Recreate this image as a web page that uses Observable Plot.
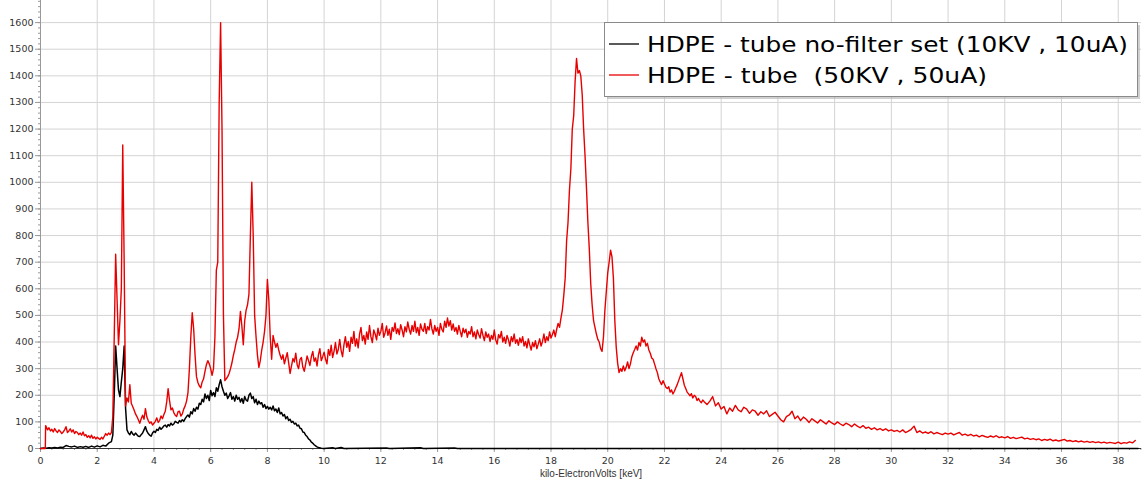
<!DOCTYPE html>
<html>
<head>
<meta charset="utf-8">
<script src="https://cdn.jsdelivr.net/npm/d3@7"></script>
<script src="https://cdn.jsdelivr.net/npm/@observablehq/plot@0.6"></script>
<style>
  html, body { margin: 0; padding: 0; background: #fff; }
  #chart { position: relative; width: 1146px; height: 488px; }
</style>
</head>
<body>
<div id="chart"></div>
<script>
// ---------- DATA (energy keV, counts) ----------
const seriesNames = ["HDPE - tube no-filter set (10KV , 10uA)", "HDPE - tube  (50KV , 50uA)"];
const xTicks = [0,2,4,6,8,10,12,14,16,18,20,22,24,26,28,30,32,34,36,38];
const yTicks = [0,100,200,300,400,500,600,700,800,900,1000,1100,1200,1300,1400,1500,1600];

// black: 10KV / 10uA
const blackLow = [[0,0],[0.1,2],[0.2,1],[0.3,3],[0.4,2],[0.5,4],[0.6,2],[0.7,5],[0.8,4],[0.9,11],[1.0,8],[1.1,6],[1.2,9],[1.3,4],[1.4,7],[1.5,5],[1.6,8],[1.7,4],[1.8,9],[1.9,5],[2.0,10],[2.1,6],[2.2,12],[2.3,9],[2.4,20],[2.5,26]];
const blackPeaks = [[2.55,50],[2.6,200],[2.65,385],[2.7,300],[2.75,220],[2.8,195],[2.85,250],[2.9,300],[2.95,385],[3.0,150],[3.05,70],[3.1,58],[3.15,52],[3.2,64],[3.25,55],[3.3,50],[3.35,58],[3.4,52],[3.45,46],[3.5,45],[3.55,52],[3.6,58],[3.65,70],[3.7,82],[3.75,65],[3.8,56],[3.85,50],[3.9,46],[3.95,58],[4.0,65],[4.05,60],[4.1,72],[4.15,68],[4.2,80],[4.25,72],[4.3,78],[4.35,85],[4.4,88],[4.45,80],[4.5,90],[4.55,85],[4.6,95],[4.65,88],[4.7,92],[4.75,102],[4.8,98],[4.85,95],[4.9,105],[4.95,100],[5.0,108],[5.05,102]];
const blackHump = [[5.1,112],[5.15,120],[5.2,126],[5.25,118],[5.3,138],[5.35,130],[5.4,150],[5.45,140],[5.5,155],[5.55,148],[5.6,170],[5.65,165],[5.7,185],[5.75,175],[5.8,205],[5.85,188],[5.9,200],[5.95,180],[6.0,218],[6.05,198],[6.1,210],[6.15,195],[6.2,228],[6.25,215],[6.3,240],[6.35,258],[6.4,232],[6.45,215],[6.5,200],[6.55,208],[6.6,188],[6.65,198],[6.7,210],[6.75,185],[6.8,195],[6.85,178],[6.9,200],[6.95,185],[7.0,192],[7.05,175],[7.1,188],[7.15,170],[7.2,195],[7.25,182],[7.3,178],[7.35,200],[7.4,208],[7.45,188],[7.5,195],[7.55,172],[7.6,185],[7.65,165],[7.7,178],[7.75,168],[7.8,172],[7.85,155],[7.9,165],[7.95,150],[8.0,158],[8.05,148],[8.1,155],[8.15,145],[8.2,160],[8.25,142],[8.3,148],[8.35,135],[8.4,152],[8.45,130],[8.5,135],[8.55,122],[8.6,128],[8.65,112],[8.7,120],[8.75,105],[8.8,110],[8.85,98],[8.9,102],[8.95,92],[9.0,95],[9.05,85],[9.1,88],[9.15,76],[9.2,74],[9.25,62],[9.3,60],[9.35,50],[9.4,45],[9.45,36],[9.5,32],[9.55,24],[9.6,20],[9.65,14],[9.7,10],[9.75,6],[9.8,4],[9.9,1],[10.0,0]];
const blackTail = [[10.3,3],[10.4,0],[10.6,4],[10.7,0],[12.2,2],[12.3,0],[13.4,3],[13.5,0],[14.6,2],[14.7,0],[38.7,0]];

// red: 50KV / 50uA
const redLow = [[0,0],[0.17,0],[0.18,86],[0.25,70],[0.3,78],[0.35,66],[0.4,72],[0.45,62],[0.5,75],[0.55,66],[0.6,60],[0.65,70],[0.7,64],[0.75,56],[0.8,62],[0.85,70],[0.9,82],[0.95,60],[1.0,66],[1.05,74],[1.1,62],[1.15,70],[1.2,56],[1.25,64],[1.3,60],[1.35,52],[1.4,58],[1.45,50],[1.5,62],[1.55,48],[1.6,52],[1.65,42],[1.7,48],[1.75,40],[1.8,50],[1.85,38],[1.9,44],[1.95,36],[2.0,42],[2.05,38],[2.1,34],[2.15,42],[2.2,36],[2.25,46],[2.3,56],[2.35,50],[2.4,58],[2.45,52],[2.5,60]];
const redPeaksLow = [[2.55,120],[2.6,420],[2.65,730],[2.7,560],[2.75,390],[2.8,480],[2.85,600],[2.9,1140],[2.95,700],[3.0,160],[3.05,190],[3.1,175],[3.15,240],[3.2,170],[3.25,158],[3.3,145],[3.35,130],[3.4,120],[3.45,108],[3.5,95],[3.55,112],[3.6,125],[3.65,110],[3.7,150],[3.75,118],[3.8,105],[3.85,95],[3.9,100],[3.95,88],[4.0,95],[4.05,102],[4.1,115],[4.15,98],[4.2,105],[4.25,122],[4.3,112],[4.35,128],[4.4,140],[4.45,175],[4.5,225],[4.55,180],[4.6,145],[4.65,152],[4.7,135],[4.75,125],[4.8,120],[4.85,138],[4.9,140],[4.95,122],[5.0,130],[5.05,148],[5.1,160],[5.15,178],[5.2,210],[5.25,300],[5.3,420],[5.35,510],[5.4,450],[5.45,350],[5.5,270],[5.55,248],[5.6,235],[5.65,228],[5.7,250],[5.75,262],[5.8,290],[5.85,315],[5.9,330],[5.95,318],[6.0,300],[6.05,275],[6.1,300],[6.15,420],[6.2,670],[6.25,700],[6.3,1300],[6.35,1600],[6.4,1200],[6.45,500],[6.5,255],[6.55,262],[6.6,270],[6.65,282],[6.7,300],[6.75,322],[6.8,350],[6.85,372],[6.9,400],[6.95,418],[7.0,450],[7.05,515],[7.1,460],[7.15,390],[7.2,480],[7.25,520],[7.3,540],[7.35,580],[7.4,800],[7.45,1000],[7.5,800],[7.55,500],[7.6,420],[7.65,350],[7.7,305],[7.75,330],[7.8,370],[7.85,400],[7.9,440],[7.95,500],[8.0,635],[8.05,560],[8.1,420],[8.15,335],[8.2,425],[8.25,400],[8.3,380],[8.35,395],[8.4,370],[8.45,350]];
const redPlateau = [[8.5,335],[8.55,352],[8.6,318],[8.65,340],[8.7,360],[8.75,322],[8.8,282],[8.85,310],[8.9,338],[8.95,325],[9.0,358],[9.05,315],[9.1,300],[9.15,335],[9.2,342],[9.25,305],[9.3,290],[9.35,318],[9.4,348],[9.45,330],[9.5,312],[9.55,345],[9.6,365],[9.65,328],[9.7,340],[9.75,310],[9.8,352],[9.85,375],[9.9,330],[9.95,345],[10.0,362],[10.05,335],[10.1,318],[10.15,372],[10.2,350],[10.25,388],[10.3,342],[10.35,365],[10.4,398],[10.45,355],[10.5,372],[10.55,410],[10.6,368],[10.65,345],[10.7,390],[10.75,420],[10.8,380],[10.85,402],[10.9,365],[10.95,418],[11.0,395],[11.05,440],[11.1,385],[11.15,412],[11.2,378],[11.25,430],[11.3,455],[11.35,405],[11.4,425],[11.45,392],[11.5,438],[11.55,410],[11.6,462],[11.65,420],[11.7,398],[11.75,445],[11.8,430],[11.85,408],[11.9,452],[11.95,425],[12.0,440],[12.05,470],[12.1,418],[12.15,435],[12.2,460],[12.25,425],[12.3,448],[12.35,410],[12.4,455],[12.45,440],[12.5,472],[12.55,432],[12.6,450],[12.65,428],[12.7,465],[12.75,445],[12.8,420],[12.85,458],[12.9,438],[12.95,475],[13.0,448],[13.05,430],[13.1,462],[13.15,440],[13.2,478],[13.25,435],[13.3,455],[13.35,425],[13.4,468],[13.45,448],[13.5,440],[13.55,470],[13.6,432],[13.65,458],[13.7,445],[13.75,485],[13.8,450],[13.85,430],[13.9,462],[13.95,440],[14.0,455],[14.05,425],[14.1,470],[14.15,448],[14.2,438],[14.25,478],[14.3,455],[14.35,490],[14.4,460],[14.45,480],[14.5,445],[14.55,468],[14.6,440],[14.65,455],[14.7,430],[14.75,462],[14.8,440],[14.85,420],[14.9,452],[14.95,435],[15.0,448],[15.05,418],[15.1,440],[15.15,430],[15.2,458],[15.25,420],[15.3,438],[15.35,412],[15.4,445],[15.45,428],[15.5,415],[15.55,450],[15.6,425],[15.65,405],[15.7,438],[15.75,418],[15.8,430],[15.85,402],[15.9,425],[15.95,410],[16.0,445],[16.05,408],[16.1,392],[16.15,428],[16.2,415],[16.25,440],[16.3,400],[16.35,418],[16.4,395],[16.45,425],[16.5,408],[16.55,385],[16.6,420],[16.65,402],[16.7,430],[16.75,395],[16.8,410],[16.85,388],[16.9,415],[16.95,398],[17.0,420],[17.05,385],[17.1,402],[17.15,378],[17.2,412],[17.25,390],[17.3,370],[17.35,398],[17.4,382],[17.45,405],[17.5,375],[17.55,392],[17.6,412],[17.65,385],[17.7,402],[17.75,430],[17.8,398],[17.85,420],[17.9,405],[17.95,438],[18.0,415],[18.05,428],[18.1,445],[18.15,420],[18.2,448]];
const redPeaksHigh = [[18.25,470],[18.3,455],[18.35,490],[18.4,520],[18.45,575],[18.5,640],[18.55,780],[18.6,850],[18.65,970],[18.7,1050],[18.75,1200],[18.8,1250],[18.85,1380],[18.9,1465],[18.95,1410],[19.0,1420],[19.05,1400],[19.1,1330],[19.15,1200],[19.2,1100],[19.25,980],[19.3,850],[19.35,750],[19.4,620],[19.45,540],[19.5,480],[19.55,455],[19.6,430],[19.65,410],[19.7,400],[19.75,375],[19.8,365],[19.85,420],[19.9,520],[19.95,590],[20.0,660],[20.05,700],[20.1,745],[20.15,720],[20.2,640],[20.25,480],[20.3,380],[20.35,320],[20.4,285],[20.45,300],[20.5,290],[20.55,310],[20.6,292],[20.65,305],[20.7,325],[20.75,300],[20.8,318],[20.85,345],[20.9,360],[20.95,372],[21.0,385],[21.05,370],[21.1,398],[21.15,385],[21.2,418],[21.25,400],[21.3,408],[21.35,385],[21.4,395],[21.45,370],[21.5,358],[21.55,340],[21.6,335],[21.65,318],[21.7,300],[21.75,285],[21.8,262],[21.85,250],[21.9,240],[21.95,255],[22.0,242],[22.05,230],[22.1,225],[22.15,232],[22.2,212],[22.25,220],[22.3,205],[22.35,215],[22.4,228],[22.45,240],[22.5,255],[22.55,270],[22.6,285],[22.65,262],[22.7,238],[22.75,225],[22.8,212],[22.85,205],[22.9,198],[22.95,206],[23.0,190],[23.05,200],[23.1,195],[23.15,180],[23.2,188],[23.25,178],[23.3,172],[23.35,182],[23.4,176]];
const redTail = [[23.5,165],[23.6,178],[23.7,195],[23.8,160],[23.9,172],[24.0,148],[24.1,158],[24.2,130],[24.3,152],[24.4,140],[24.5,162],[24.6,145],[24.7,138],[24.8,155],[24.9,148],[25.0,132],[25.1,145],[25.2,140],[25.3,125],[25.4,138],[25.5,130],[25.6,142],[25.7,120],[25.8,128],[25.9,136],[26.0,122],[26.1,108],[26.2,100],[26.3,120],[26.4,126],[26.5,140],[26.6,112],[26.7,122],[26.8,105],[26.9,118],[27.0,110],[27.1,98],[27.2,112],[27.3,104],[27.4,96],[27.5,108],[27.6,100],[27.7,92],[27.8,104],[27.9,96],[28.0,90],[28.1,100],[28.2,92],[28.3,86],[28.4,95],[28.5,90],[28.6,82],[28.7,92],[28.8,84],[28.9,78],[29.0,86],[29.1,76],[29.2,80],[29.3,72],[29.4,78],[29.5,70],[29.6,75],[29.7,68],[29.8,74],[29.9,66],[30.0,70],[30.1,64],[30.2,68],[30.3,62],[30.4,70],[30.5,60],[30.6,65],[30.7,72],[30.8,84],[30.9,60],[31.0,66],[31.1,58],[31.2,62],[31.3,57],[31.4,63],[31.5,55],[31.6,60],[31.7,56],[31.8,52],[31.9,58],[32.0,54],[32.1,58],[32.2,51],[32.3,56],[32.4,60],[32.5,50],[32.6,54],[32.7,48],[32.8,53],[32.9,47],[33.0,50],[33.1,44],[33.2,49],[33.3,45],[33.4,42],[33.5,47],[33.6,43],[33.7,48],[33.8,41],[33.9,44],[34.0,40],[34.1,45],[34.2,38],[34.3,42],[34.4,37],[34.5,40],[34.6,43],[34.7,36],[34.8,39],[34.9,34],[35.0,37],[35.1,33],[35.2,36],[35.3,30],[35.4,34],[35.5,31],[35.6,35],[35.7,29],[35.8,32],[35.9,28],[36.0,31],[36.1,34],[36.2,28],[36.3,30],[36.4,26],[36.5,29],[36.6,25],[36.7,28],[36.8,24],[36.9,27],[37.0,23],[37.1,26],[37.2,22],[37.3,25],[37.4,21],[37.5,24],[37.6,20],[37.7,23],[37.8,21],[37.9,19],[38.0,24],[38.1,18],[38.2,22],[38.3,20],[38.4,25],[38.5,21],[38.6,30]];

// ---------- BUILD ----------
const black = [...blackLow, ...blackPeaks, ...blackHump, ...blackTail].map(([x, y]) => ({x, y}));
const red = [...redLow, ...redPeaksLow, ...redPlateau, ...redPeaksHigh, ...redTail].map(([x, y]) => ({x, y}));
const yMinor = d3.range(0, 1681, 20);
const xMinor = d3.range(0, 38.81, 0.4);

const font = "DejaVu Sans, Verdana, sans-serif";

const chart = Plot.plot({
  width: 1146,
  height: 488,
  marginLeft: 40,
  marginRight: 5,
  marginTop: 0,
  marginBottom: 40,
  style: {fontFamily: font, fontSize: "9.5px", color: "#333", background: "#fff"},
  x: {domain: [0, 38.82], label: null},
  y: {domain: [0, 1683], label: null},
  marks: [
    Plot.gridX(xTicks, {stroke: "#d4d4d4", strokeOpacity: 1}),
    Plot.gridY(yTicks, {stroke: "#d4d4d4", strokeOpacity: 1}),
    Plot.axisY(yMinor, {tickSize: 2, text: null, stroke: "#999"}),
    Plot.axisY(yTicks, {tickSize: 5, tickPadding: 2, stroke: "#999", fill: "#333", tickFormat: d => String(d)}),
    Plot.axisX(xMinor, {tickSize: 2, text: null, stroke: "#999"}),
    Plot.axisX(xTicks, {tickSize: 4, tickPadding: 5, stroke: "#999", fill: "#333", tickFormat: d => String(d)}),
    Plot.ruleX([0], {stroke: "#999"}),
    Plot.ruleY([0], {stroke: "#333"}),
    Plot.line(black, {x: "x", y: "y", stroke: "#000", strokeWidth: 1.5}),
    Plot.line(red, {x: "x", y: "y", stroke: "#e80000", strokeWidth: 1.4}),
    Plot.text(["kilo-ElectronVolts [keV]"], {frameAnchor: "bottom", dy: 25, lineAnchor: "middle",
      fontFamily: "Liberation Sans, Arial, sans-serif", fontSize: 10, fill: "#333"})
  ]
});

document.getElementById("chart").appendChild(chart);

// ---------- LEGEND (inside plot area, top right) ----------
const svg = d3.select(chart);
const lg = svg.append("g").attr("class", "legend").attr("text-anchor", "start");
lg.append("rect").attr("x", 607).attr("y", 25).attr("width", 533).attr("height", 74)
  .attr("fill", "#b0b0b0").attr("opacity", 0.6);
lg.append("rect").attr("x", 604.5).attr("y", 22.5).attr("width", 533).attr("height", 74)
  .attr("fill", "#fff").attr("stroke", "#8a8a8a").attr("stroke-width", 1);
const rows = [{name: seriesNames[0], color: "#000", y: 44, base: 52, w: 481},
              {name: seriesNames[1], color: "#e80000", y: 75, base: 83, w: 340}];
for (const r of rows) {
  lg.append("line").attr("x1", 609).attr("x2", 639).attr("y1", r.y).attr("y2", r.y)
    .attr("stroke", r.color).attr("stroke-width", 1.3);
  lg.append("text").attr("x", 647).attr("y", r.base).attr("text-anchor", "start")
    .attr("font-family", font).attr("font-size", 22).attr("fill", "#000")
    .attr("xml:space", "preserve").style("white-space", "pre")
    .attr("textLength", r.w).attr("lengthAdjust", "spacingAndGlyphs")
    .text(r.name);
}
</script>
</body>
</html>
